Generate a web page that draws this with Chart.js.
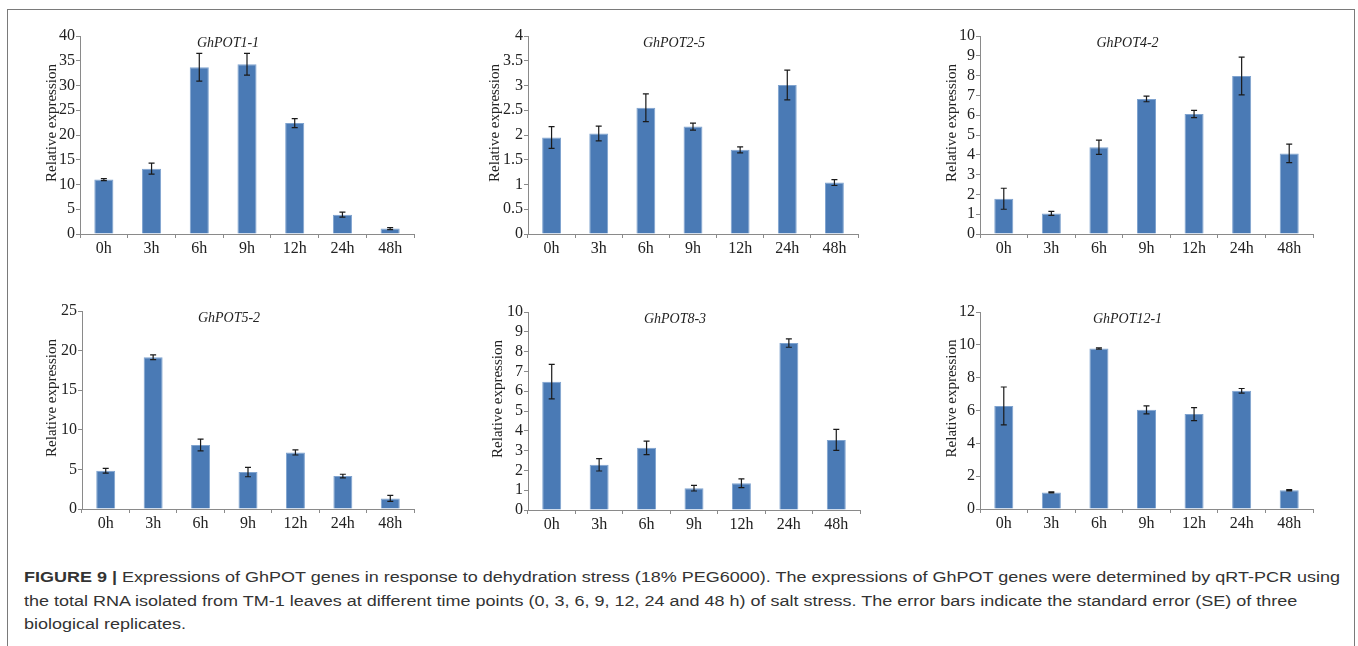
<!DOCTYPE html>
<html><head><meta charset="utf-8">
<script src="https://cdn.jsdelivr.net/npm/chart.js@4"></script>
<style>
body{margin:0;background:#fff;width:1358px;height:646px;overflow:hidden;position:relative}
#frame{position:absolute;left:7px;top:9px;width:1348px;height:700px;border:1.5px solid #7a7a7a;box-sizing:border-box}
canvas{position:absolute}
.cap{position:absolute;left:24px;font-family:"Liberation Sans",Arial,sans-serif;font-size:15.5px;color:#333;white-space:nowrap;transform-origin:0 50%;line-height:18px}
.cap b{font-weight:bold;color:#333}
</style></head><body>
<div id="frame"></div>
<canvas id="c0"></canvas><canvas id="c1"></canvas><canvas id="c2"></canvas>
<canvas id="c3"></canvas><canvas id="c4"></canvas><canvas id="c5"></canvas>
<div class="cap" id="l1" style="top:568px"><b>FIGURE 9 |</b> Expressions of GhPOT genes in response to dehydration stress (18% PEG6000). The expressions of GhPOT genes were determined by qRT-PCR using</div>
<div class="cap" id="l2" style="top:592px">the total RNA isolated from TM-1 leaves at different time points (0, 3, 6, 9, 12, 24 and 48 h) of salt stress. The error bars indicate the standard error (SE) of three</div>
<div class="cap" id="l3" style="top:615px">biological replicates.</div>
<script>
// ---- data ----
const categories = ['0h','3h','6h','9h','12h','24h','48h'];
const geneNames = ['GhPOT1-1','GhPOT2-5','GhPOT4-2','GhPOT5-2','GhPOT8-3','GhPOT12-1'];
const yAxisTitle = 'Relative expression';

const pot1_1 = [11.0, 13.2, 33.7, 34.3, 22.4, 3.9, 1.1];
const pot1_1Err = [0.2, 1.1, 2.8, 2.2, 0.9, 0.5, 0.2];
const pot2_5 = [1.95, 2.03, 2.55, 2.17, 1.70, 3.01, 1.04];
const pot2_5Err = [0.22, 0.15, 0.28, 0.07, 0.06, 0.30, 0.06];
const pot4_2 = [1.78, 1.04, 4.38, 6.82, 6.06, 7.98, 4.07];
const pot4_2Err = [0.53, 0.10, 0.36, 0.14, 0.18, 0.95, 0.47];
const pot5_2 = [4.83, 19.16, 8.07, 4.66, 7.14, 4.16, 1.34];
const pot5_2Err = [0.30, 0.30, 0.74, 0.59, 0.32, 0.23, 0.38];
const pot8_3 = [6.48, 2.28, 3.14, 1.10, 1.35, 8.43, 3.54];
const pot8_3Err = [0.87, 0.31, 0.34, 0.14, 0.22, 0.21, 0.53];
const pot12_1 = [6.28, 1.01, 9.77, 6.04, 5.78, 7.20, 1.14];
const pot12_1Err = [1.15, 0.03, 0.04, 0.24, 0.40, 0.14, 0.04];

const seriesValues = [pot1_1, pot2_5, pot4_2, pot5_2, pot8_3, pot12_1];
const seriesErrors = [pot1_1Err, pot2_5Err, pot4_2Err, pot5_2Err, pot8_3Err, pot12_1Err];
const yMaxTicks = [40, 4, 10, 25, 10, 12];
const yStepTicks = [5, 0.5, 1, 5, 1, 2];

// ---- layout (plot areas in page px) ----
const plotAreas = [
  {l:80, t:36, r:414, b:234},
  {l:528, t:36, r:858, b:234},
  {l:980, t:36, r:1313, b:234},
  {l:82, t:311, r:414, b:509},
  {l:528, t:312, r:860, b:510},
  {l:980, t:312, r:1313, b:509}
];
const yTitleOffsets = [28, 33, 28, 30, 30, 28];
const PAD_L = 60, PAD_T = 20, PAD_R = 24, PAD_B = 40, Y_W = 36, X_H = 30;

const serif = '"Liberation Serif","Times New Roman",serif';
const axisColor = '#8a8a8a';
const textColor = '#222';

const extrasPlugin = {
  id: 'extras',
  afterDatasetsDraw(chart, args, opts) {
    const ctx = chart.ctx;
    const meta = chart.getDatasetMeta(0);
    const ys = chart.scales.y;
    const vals = chart.data.datasets[0].data;
    const errs = opts.errors;
    ctx.save();
    ctx.strokeStyle = '#1a1a1a';
    ctx.lineWidth = 1.2;
    meta.data.forEach((bar, i) => {
      const x = bar.x;
      const yt = ys.getPixelForValue(vals[i] + errs[i]);
      const yb = ys.getPixelForValue(vals[i] - errs[i]);
      ctx.beginPath();
      ctx.moveTo(x, yt); ctx.lineTo(x, yb);
      ctx.moveTo(x - 3, yt); ctx.lineTo(x + 3, yt);
      ctx.moveTo(x - 3, yb); ctx.lineTo(x + 3, yb);
      ctx.stroke();
    });
    const ca = chart.chartArea;
    ctx.fillStyle = textColor;
    ctx.font = 'italic 14px ' + serif;
    ctx.textAlign = 'center';
    ctx.textBaseline = 'middle';
    ctx.fillText(opts.title, (ca.left + ca.right) / 2 - 19, ca.top + 7);
    ctx.font = '15px ' + serif;
    ctx.translate(ca.left - opts.yOff, (ca.top + ca.bottom) / 2 - 12);
    ctx.rotate(-Math.PI / 2);
    ctx.fillText(yAxisTitle, 0, 0);
    ctx.restore();
  }
};

function build() {
  plotAreas.forEach((a, k) => {
    const cv = document.getElementById('c' + k);
    const w = (a.r - a.l) + PAD_L + PAD_R;
    const h = (a.b - a.t) + PAD_T + PAD_B;
    cv.width = w; cv.height = h;
    cv.style.left = (a.l - PAD_L) + 'px';
    cv.style.top = (a.t - PAD_T) + 'px';
    cv.style.width = w + 'px'; cv.style.height = h + 'px';
    new Chart(cv, {
      type: 'bar',
      data: {
        labels: categories,
        datasets: [{
          data: seriesValues[k],
          backgroundColor: '#4a7ab5',
          borderColor: '#7fa3cf',
          borderWidth: 1,
          barPercentage: 0.4,
          categoryPercentage: 1
        }]
      },
      options: {
        responsive: false,
        animation: false,
        devicePixelRatio: 1,
        layout: {padding: {left: PAD_L - Y_W, top: PAD_T, right: PAD_R, bottom: PAD_B - X_H}},
        plugins: {
          legend: {display: false},
          tooltip: {enabled: false},
          extras: {errors: seriesErrors[k], title: geneNames[k], yOff: yTitleOffsets[k]}
        },
        scales: {
          x: {
            afterFit(s) { s.height = X_H; },
            grid: {display: true, offset: true, drawOnChartArea: false, drawTicks: true, tickLength: 4, color: axisColor},
            border: {display: true, color: axisColor, width: 1},
            ticks: {color: textColor, font: {family: serif, size: 16}, padding: 1, maxRotation: 0, autoSkip: false}
          },
          y: {
            min: 0, max: yMaxTicks[k],
            afterFit(s) { s.width = Y_W; },
            grid: {display: true, drawOnChartArea: false, drawTicks: true, tickLength: 4, color: axisColor},
            border: {display: true, color: axisColor, width: 1},
            ticks: {stepSize: yStepTicks[k], autoSkip: false, color: textColor, font: {family: serif, size: 16}, padding: 1,
              callback: v => String(+(+v).toFixed(2))}
          }
        }
      },
      plugins: [extrasPlugin]
    });
  });
}

Promise.all([
  document.fonts.load('16px "Liberation Serif"'),
  document.fonts.load('italic 14px "Liberation Serif"'),
  document.fonts.load('15.5px "Liberation Sans"'),
  document.fonts.load('bold 15.5px "Liberation Sans"')
]).catch(() => {}).then(() => {
  build();
  const l1 = document.getElementById('l1');
  const sc = 1316 / l1.getBoundingClientRect().width;
  ['l1','l2','l3'].forEach(id => { document.getElementById(id).style.transform = 'scaleX(' + sc + ')'; });
});
</script>
</body></html>
